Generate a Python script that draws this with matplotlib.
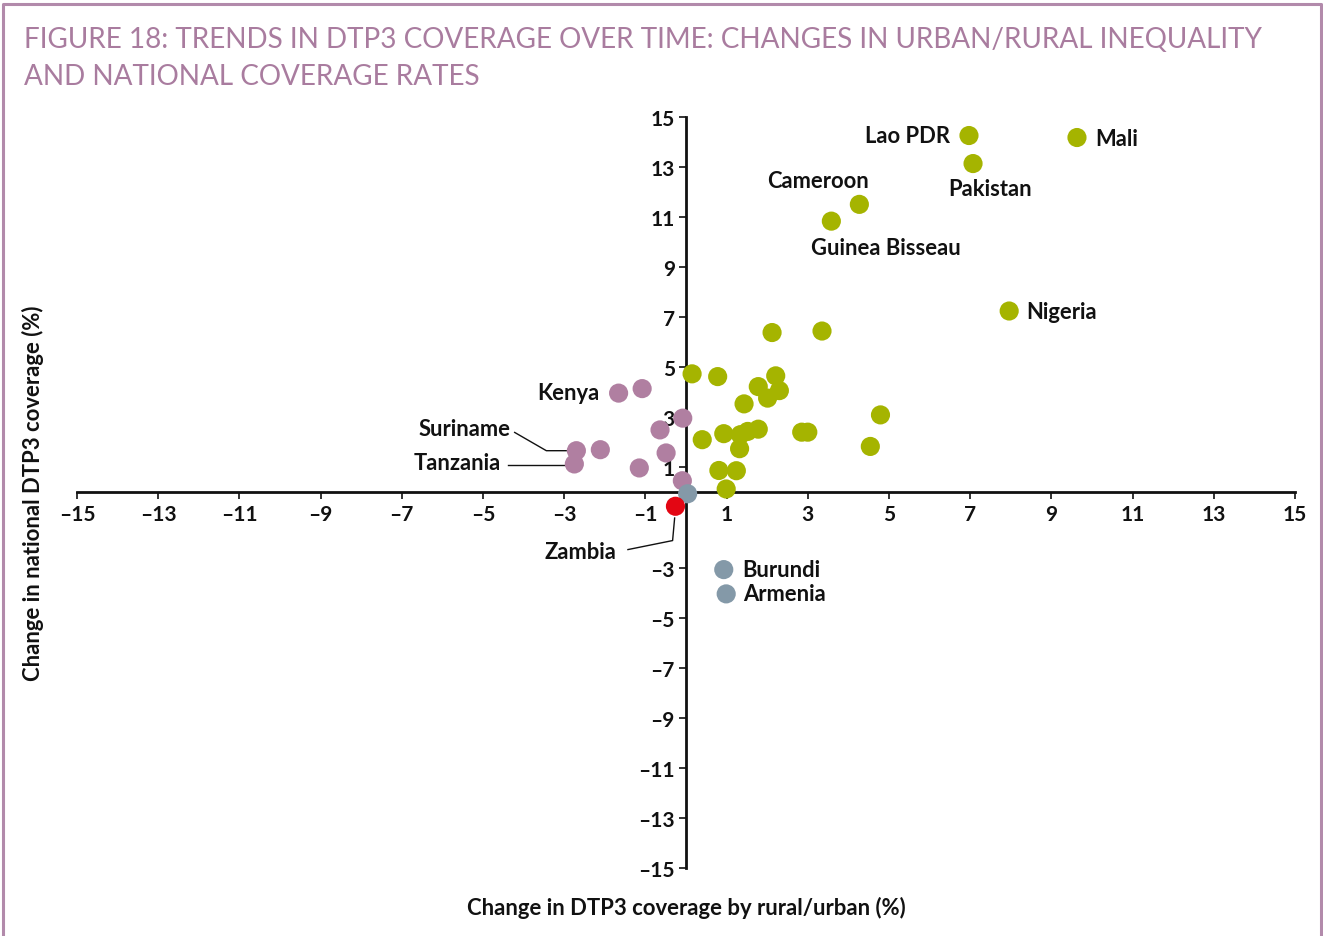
import numpy as np
import matplotlib
matplotlib.use("Agg")
from matplotlib import pyplot as plt
from matplotlib.ticker import FuncFormatter

# ---- data ----
green_x = [6.97, 9.63, 7.07, 4.27, 3.58, 7.96,
           2.12, 3.35, 0.15, 0.78, 2.21, 1.78, 2.30, 2.01, 1.43, 4.79,
           0.40, 0.93, 1.34, 1.52, 1.78, 1.32, 2.85, 3.00, 4.54, 0.81, 1.24, 0.99]
green_y = [14.26, 14.18, 13.14, 11.51, 10.84, 7.25,
           6.39, 6.45, 4.74, 4.63, 4.66, 4.23, 4.07, 3.77, 3.54, 3.10,
           2.11, 2.35, 2.31, 2.44, 2.53, 1.75, 2.41, 2.41, 1.84, 0.88, 0.87, 0.14]
purple_x = [-1.66, -1.08, -0.08, -0.64, -2.70, -2.11, -0.49, -2.75, -1.15, -0.09]
purple_y = [3.97, 4.15, 2.97, 2.50, 1.67, 1.71, 1.58, 1.14, 0.98, 0.47]
grey_x = [0.04, 0.93, 0.99]
grey_y = [-0.05, -3.08, -4.05]
red_x = [-0.26]
red_y = [-0.55]

# labelled countries: name -> (x, y)
labelled = {
    "Lao PDR": (6.97, 14.26),
    "Mali": (9.63, 14.18),
    "Pakistan": (7.07, 13.14),
    "Cameroon": (4.27, 11.51),
    "Guinea Bisseau": (3.58, 10.84),
    "Nigeria": (7.96, 7.25),
    "Kenya": (-1.66, 3.97),
    "Burundi": (0.93, -3.08),
    "Armenia": (0.99, -4.05),
}

x_ticks = list(range(-15, 16, 2))
y_ticks = [15, 13, 11, 9, 7, 5, 3, 1, -3, -5, -7, -9, -11, -13, -15]

GREEN = "#a5b400"
PURPLE = "#b07fa1"
GREY = "#8499a8"
RED = "#e30613"
TITLE_COL = "#a97c9f"
INK = "#111111"
FONT = ["Lato", "DejaVu Sans"]

plt.rcParams["font.family"] = FONT

# label placement: offset in points, alignment
label_style = {
    "Lao PDR": ((-14, 0), "right", "center"),
    "Mali": ((13, -0.5), "left", "center"),
    "Pakistan": ((12, -18), "center", "center"),
    "Cameroon": ((-30, 17), "center", "center"),
    "Guinea Bisseau": ((39, -19), "center", "center"),
    "Nigeria": ((12, -0.5), "left", "center"),
    "Kenya": ((-14, 0.5), "right", "center"),
    "Burundi": ((13, 0), "left", "center"),
    "Armenia": ((12.5, 0), "left", "center"),
}
LABEL_FS = 15.8
LABEL_W = "bold"


def dash_fmt(v, _pos):
    v = int(round(v))
    return f"\u2013{abs(v)}" if v < 0 else f"{v}"


fig = plt.figure(figsize=(13.23, 9.37), dpi=100)
ax = fig.add_axes([77 / 1323, 1 - 869 / 937, (1295 - 77) / 1323, (869 - 118) / 937])

ax.set_xlim(-15, 15)
ax.set_ylim(-15, 15)

ms = 190
for xs, ys, c in [(green_x, green_y, GREEN), (purple_x, purple_y, PURPLE),
                  (grey_x, grey_y, GREY), (red_x, red_y, RED)]:
    ax.scatter(xs, ys, s=ms, color=c, edgecolors="none", zorder=4, clip_on=False)

for name, (px, py) in labelled.items():
    (dx, dy), ha, va = label_style[name]
    ax.annotate(name, (px, py), xytext=(dx, dy), textcoords="offset points",
                ha=ha, va=va, fontsize=LABEL_FS, fontweight=LABEL_W, color=INK)

# labels with leader lines
lw_lead = 1.0
ax.plot([-4.22, -3.44, -2.95], [2.40, 1.67, 1.67], color=INK, lw=lw_lead, zorder=2)
ax.text(-4.31, 2.55, "Suriname", ha="right", va="center", fontsize=LABEL_FS,
        fontweight=LABEL_W, color=INK)
ax.plot([-4.39, -2.98], [1.11, 1.11], color=INK, lw=lw_lead, zorder=2)
ax.text(-4.57, 1.19, "Tanzania", ha="right", va="center", fontsize=LABEL_FS,
        fontweight=LABEL_W, color=INK)
ax.plot([-1.43, -0.33, -0.28], [-2.28, -1.92, -1.02], color=INK, lw=lw_lead, zorder=2)
ax.text(-2.60, -2.36, "Zambia", ha="center", va="center", fontsize=LABEL_FS,
        fontweight=LABEL_W, color=INK)

# centred axes
for side in ["top", "right"]:
    ax.spines[side].set_visible(False)
for side in ["left", "bottom"]:
    ax.spines[side].set_position(("data", 0))
    ax.spines[side].set_linewidth(2.0)
    ax.spines[side].set_color(INK)
    ax.spines[side].set_bounds(-15, 15)

ax.set_xticks(x_ticks)
ax.set_yticks(y_ticks)
ax.xaxis.set_major_formatter(FuncFormatter(dash_fmt))
ax.yaxis.set_major_formatter(FuncFormatter(dash_fmt))
ax.tick_params(axis="both", direction="out", length=5, width=1.2, color=INK,
               labelsize=15, pad=3)
for lab in ax.get_xticklabels() + ax.get_yticklabels():
    lab.set_fontweight("bold")
    lab.set_color(INK)

fig.text(686 / 1323, 1 - 908 / 937, "Change in DTP3 coverage by rural/urban (%)",
         ha="center", va="center", fontsize=15.9, fontweight="bold", color=INK)
fig.text(33 / 1323, 1 - 493 / 937, "Change in national DTP3 coverage (%)",
         ha="center", va="center", rotation=90, fontsize=15.9, fontweight="bold",
         color=INK)

fig.text(24 / 1323, 1 - 40 / 937,
         "FIGURE 18: TRENDS IN DTP3 COVERAGE OVER TIME: CHANGES IN URBAN/RURAL INEQUALITY",
         ha="left", va="center", fontsize=20.1, fontweight="normal", color=TITLE_COL)
fig.text(24 / 1323, 1 - 77 / 937, "AND NATIONAL COVERAGE RATES",
         ha="left", va="center", fontsize=20.1, fontweight="normal", color=TITLE_COL)

# frame round the figure (left, top, right)
frame_col = "#b28aab"
fig.add_artist(plt.Line2D([3 / 1323, 3 / 1323, 1321 / 1323, 1321 / 1323],
                          [0, 1 - 5 / 937, 1 - 5 / 937, 0],
                          transform=fig.transFigure, color=frame_col, lw=2.2))

fig.savefig("out.png", dpi=100)
